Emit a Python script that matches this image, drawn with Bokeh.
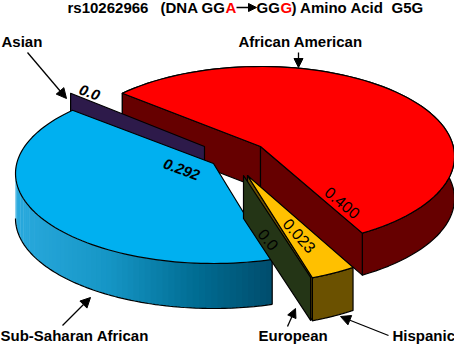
import math
from bokeh.plotting import figure
from bokeh.models import Range1d, Arrow, NormalHead
from bokeh.core.properties import value
from bokeh.embed import file_html
from bokeh.resources import INLINE

# ---- data ----
names = ["African American", "Hispanic", "European", "Sub-Saharan African", "Asian"]
freqs = [0.400, 0.023, 0.0, 0.292, 0.0]
freq_labels = ["0.400", "0.023", "0.0", "0.292", "0.0"]

# ---- layout of the exploded 3-D pie (image pixels) ----
# apex x, apex y, ellipse-centre drop below apex, rx, ry, depth, nudge at slice start, nudge at slice end
layout = {
    "African American":    (260, 146, 10, 194, 90, 42, 0, -1.5),
    "Hispanic":            (247, 175, 8, 194, 100, 43, -0.2, -0.7),
    "European":            (243, 175, 8, 194, 100, 43, 0, 0),
    "Sub-Saharan African": (213, 163, 10, 198, 90, 45, -3, 0),
    "Asian":               (204, 146, 10, 188, 90, 42, 0, 0),
}
colors = {
    "African American":    ("#ff0000", "#660000"),
    "Hispanic":            ("#ffc000", "#6b5100"),
    "European":            ("#243516", "#243516"),
    "Sub-Saharan African": ("#00b0f0", "#0a7ba6"),
    "Asian":               ("#2d1a4a", "#2d1a4a"),
}
blue_stops = [(0.0, (42, 170, 222)), (0.35, (22, 150, 198)), (0.7, (0, 108, 146)), (1.0, (0, 76, 108))]

START = 141.0   # degrees, where the first slice begins
WARP = 7.2      # perspective stretch of the near side, degrees
LINE = 1.2
total = sum(freqs)


def warp(theta):
    return theta + WARP * math.cos(math.radians(theta))


spans = {}
th = START
for n, f in zip(names, freqs):
    sweep = f / total * 360
    spans[n] = (th, th - sweep)
    th -= sweep


def rim(n, t0, t1, steps=80, drop=0):
    ax, ay, dc, rx, ry = layout[n][:5]
    xs, ys = [], []
    for i in range(steps + 1):
        t = math.radians(t0 + (t1 - t0) * i / steps)
        xs.append(ax + rx * math.cos(t))
        ys.append(ay + dc - ry * math.sin(t) + drop)
    return xs, ys


def angles(n):
    na, nb = layout[n][6:8]
    a, b = spans[n]
    return warp(a) + na, warp(b) + nb


p = figure(width=454, height=344, x_range=Range1d(0, 454), y_range=Range1d(344, 0),
           toolbar_location=None, output_backend="svg", min_border=0,
           outline_line_color=None)
p.xaxis.visible = False
p.yaxis.visible = False
p.xgrid.visible = False
p.ygrid.visible = False


def poly(xs, ys, fill, line="black", lw=LINE):
    p.patch(xs, ys, fill_color=fill, line_color=line, line_width=lw, line_join="round")


def wall(n, t, fill):
    ax, ay = layout[n][:2]
    d = layout[n][5]
    rx_, ry_ = rim(n, t, t, steps=1)
    ox, oy = rx_[0], ry_[0]
    poly([ax, ox, ox, ax], [ay, oy, oy + d, ay + d], fill)


def outer(n, a, b, fill):
    d = layout[n][5]
    x0, y0 = rim(n, a, b)
    x1, y1 = rim(n, a, b, drop=d)
    poly(x0 + x1[::-1], y0 + y1[::-1], fill)


def top(n):
    a, b = angles(n)
    x, y = rim(n, a, b)
    poly([layout[n][0]] + x, [layout[n][1]] + y, colors[n][0])


# African American
n = "African American"
a, b = angles(n)
outer(n, a, b, colors[n][1])
wall(n, a, colors[n][1])
wall(n, b, colors[n][1])
top(n)

# Asian: a zero slice is a bare wall
n = "Asian"
wall(n, angles(n)[0], colors[n][0])

# Sub-Saharan African, side shaded left to right
n = "Sub-Saharan African"
a, b = angles(n)
d = layout[n][5]
STRIPS = 60
lo, hi = -180.0, a


def shade(u):
    for (u0, c0), (u1, c1) in zip(blue_stops, blue_stops[1:]):
        if u <= u1:
            k = (u - u0) / (u1 - u0)
            return "#%02x%02x%02x" % tuple(int(c0[i] + (c1[i] - c0[i]) * k) for i in range(3))
    return "#004c6c"


x_ends = rim(n, lo, hi, steps=1)[0]
for i in range(STRIPS):
    t0 = lo + (hi - lo) * i / STRIPS
    t1 = min(lo + (hi - lo) * (i + 1) / STRIPS + 0.4, hi)
    x0, y0 = rim(n, t0, t1, steps=4)
    x1, y1 = rim(n, t0, t1, steps=4, drop=d)
    u = (x0[0] - x_ends[0]) / (x_ends[1] - x_ends[0])
    p.patch(x0 + x1[::-1], y0 + y1[::-1], fill_color=shade(u), line_color=None)
xo, yo = rim(n, lo, hi, steps=100, drop=d)
p.line(xo, yo, line_color="black", line_width=LINE)
xe, ye = rim(n, hi, hi, steps=1)
p.line([xe[0], xe[0]], [ye[0], ye[0] + d], line_color="black", line_width=LINE)
top(n)

# Hispanic wall, European wall, then Hispanic top and side
n = "Hispanic"
wall(n, angles(n)[1], colors[n][1])
n = "European"
wall(n, angles(n)[0], colors[n][0])
n = "Hispanic"
a, b = angles(n)
outer(n, a, b, colors[n][1])
top(n)

# ---- labels ----
LABEL = value("Liberation Sans")


def label(x, y, s, size=15, color="black", style="bold", angle=0.0, align="left"):
    p.text([x], [y], text=[s], text_font=LABEL, text_font_size=f"{size}px",
           text_font_style=style, text_color=color, angle=[math.radians(angle)],
           text_align=align, text_baseline="middle")


label(1, 41, "Asian")
label(300, 41, "African American", align="center")
label(0, 335, "Sub-Saharan African")
label(258, 335, "European")
label(392, 335, "Hispanic")

label(67, 7, "rs10262966")
label(160, 7, "(DNA GG")
label(225, 7, "A", color="#ff0000")
label(256, 7, "GG")
label(280, 7, "G", color="#ff0000")
label(291, 7, ") Amino Acid")
label(391, 7, "G5G")

value_pos = [(342, 202, -40, "normal"), (299, 235, -48, "normal"), (268, 239, -50, "normal"),
             (181, 169, -20, "bold italic"), (89, 92, -20, "bold italic")]
for (x, y, ang, st), s in zip(value_pos, freq_labels):
    label(x, y, s, size=16 if st == "normal" else 15, style=st, angle=ang, align="center")

# ---- leader arrows ----
arrows = [(27, 52, 66, 98, 10), (298, 52, 298, 67, 9), (62, 325, 90, 297, 10),
          (287, 326, 295, 308, 9), (388, 335, 340, 316, 10), (236, 7, 256, 7, 8)]
for x0, y0, x1, y1, s in arrows:
    p.add_layout(Arrow(end=NormalHead(size=s, fill_color="black", line_color="black"),
                       x_start=x0, y_start=y0, x_end=x1, y_end=y1,
                       line_color="black", line_width=1.3))

open("out.html", "w").write(file_html(p, INLINE))
